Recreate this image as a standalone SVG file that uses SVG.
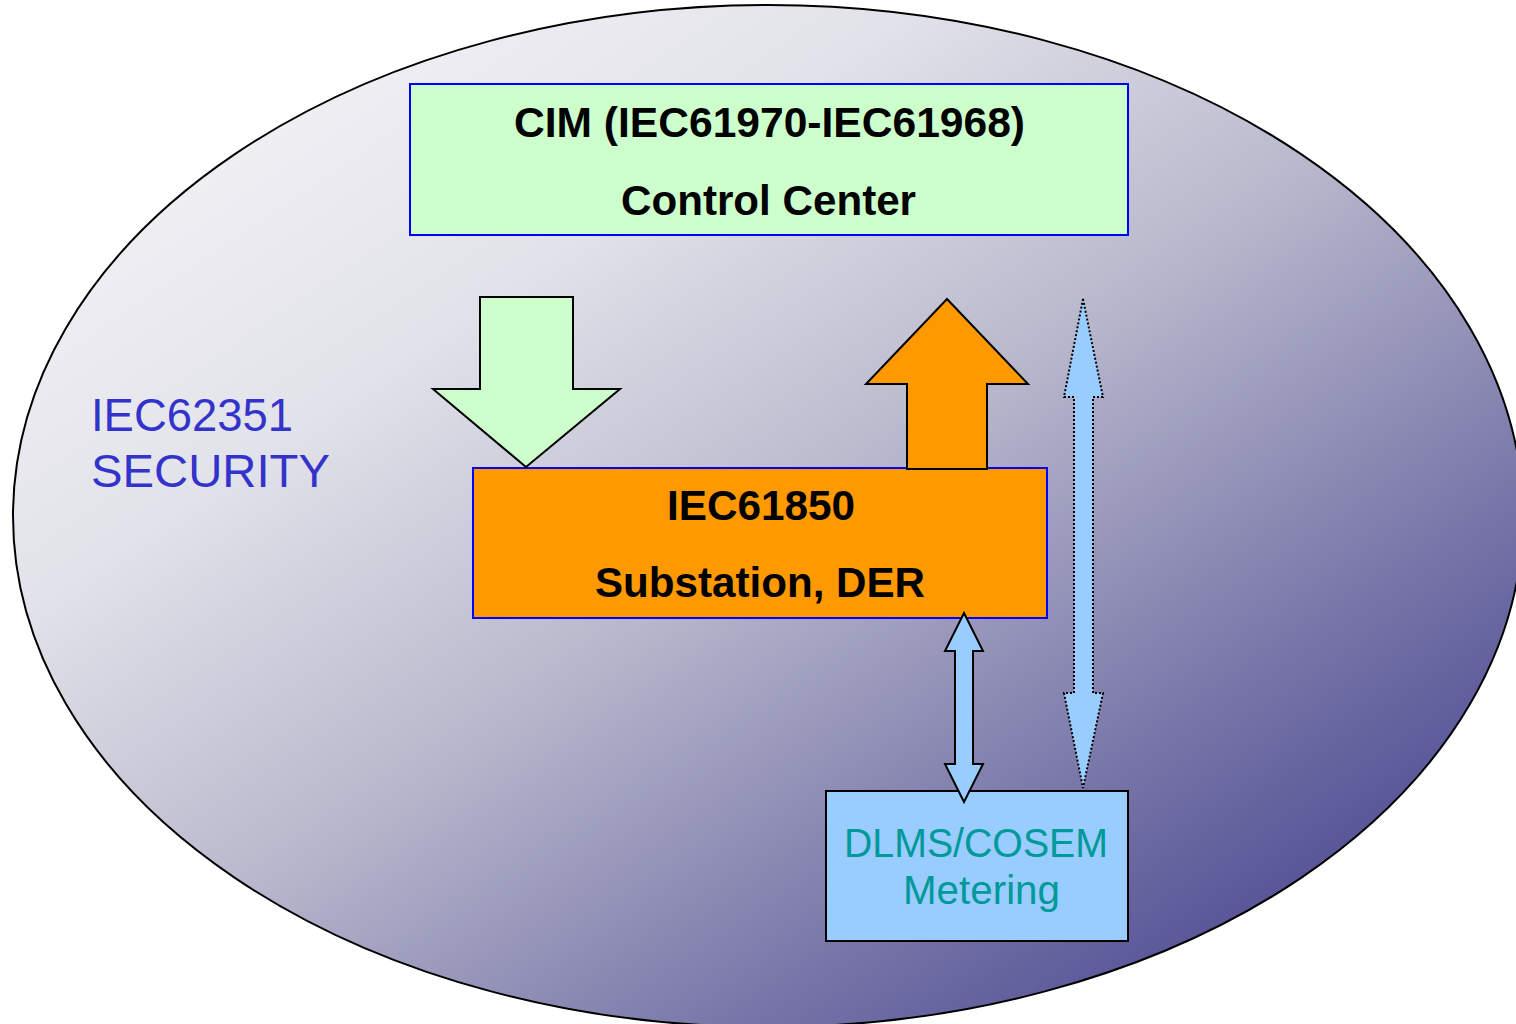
<svg xmlns="http://www.w3.org/2000/svg" width="1516" height="1024" viewBox="0 0 1516 1024">
  <defs>
    <linearGradient id="bg" x1="0" y1="0" x2="1" y2="1">
      <stop offset="0" stop-color="#fafafc"/>
      <stop offset="0.3" stop-color="#e2e2ea"/>
      <stop offset="0.5" stop-color="#babace"/>
      <stop offset="0.75" stop-color="#7472a6"/>
      <stop offset="0.9" stop-color="#4c4a92"/>
      <stop offset="1" stop-color="#3a3886"/>
    </linearGradient>
  </defs>
  <style>
    .bold { font-family: "Liberation Sans", Arial, sans-serif; font-weight: bold; font-size: 42px; fill: #000000; }
    .sec { font-family: "Liberation Sans", Arial, sans-serif; font-size: 46px; fill: #3333cc; }
    .met { font-family: "Liberation Sans", Arial, sans-serif; font-size: 40px; fill: #009999; }
    .blk { stroke: #000000; stroke-width: 2; stroke-linejoin: miter; }
    .dot { stroke: #000000; stroke-width: 2; stroke-dasharray: 2 2; }
  </style>
  <rect width="1516" height="1024" fill="#ffffff"/>
  <g id="security">
    <ellipse cx="768" cy="516" rx="755" ry="511" fill="url(#bg)" stroke="#000000" stroke-width="2"/>
    <text class="sec" x="91" y="431" textLength="202" lengthAdjust="spacingAndGlyphs">IEC62351</text>
    <text class="sec" x="91" y="487" textLength="239" lengthAdjust="spacingAndGlyphs">SECURITY</text>
  </g>
  <g id="cim">
    <rect x="410" y="84" width="718" height="151" fill="#ccffcc" stroke="#0000ff" stroke-width="2"/>
    <text class="bold" x="514" y="137" textLength="511" lengthAdjust="spacingAndGlyphs">CIM (IEC61970-IEC61968)</text>
    <text class="bold" x="621" y="215" textLength="295" lengthAdjust="spacingAndGlyphs">Control Center</text>
  </g>
  <g id="iec61850">
    <rect x="473" y="468" width="574" height="150" fill="#ff9900" stroke="#0000ff" stroke-width="2"/>
    <text class="bold" x="667" y="520" textLength="188" lengthAdjust="spacingAndGlyphs">IEC61850</text>
    <text class="bold" x="595" y="597" textLength="330" lengthAdjust="spacingAndGlyphs">Substation, DER</text>
  </g>
  <g id="dlms">
    <rect x="826" y="791" width="302" height="150" fill="#99ccff" stroke="#000000" stroke-width="2"/>
    <text class="met" x="844" y="857" textLength="264" lengthAdjust="spacingAndGlyphs">DLMS/COSEM</text>
    <text class="met" x="903" y="904" textLength="157" lengthAdjust="spacingAndGlyphs">Metering</text>
  </g>
  <g id="connectors">
    <polygon class="blk" fill="#ccffcc" points="480,297 573,297 573,389 620,389 526,467 433,389 480,389"/>
    <polygon class="blk" fill="#ff9900" points="947,299 1028,384 987,384 987,469 907,469 907,384 866,384"/>
    <polygon class="blk" fill="#99ccff" points="964,613 983,651 973,651 973,764 983,764 964,802 945,764 955,764 955,651 945,651"/>
    <polygon class="dot" fill="#99ccff" points="1083,299 1103,397 1093,397 1093,693 1103,693 1083,788 1064,693 1074,693 1074,397 1064,397"/>
  </g>
</svg>
